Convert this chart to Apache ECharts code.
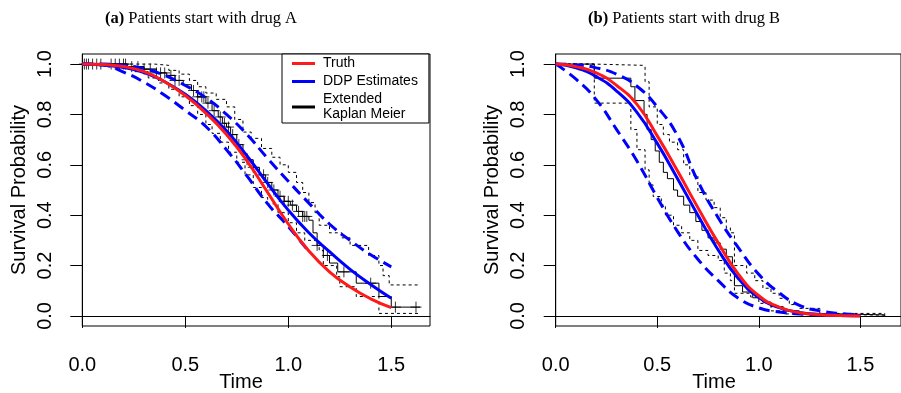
<!DOCTYPE html>
<html>
<head>
<meta charset="utf-8">
<script src="https://cdn.jsdelivr.net/npm/echarts@6/dist/echarts.min.js"></script>
<style>
html,body{margin:0;padding:0;background:#fff;}
#chart{width:901px;height:393px;}
</style>
</head>
<body>
<div id="chart"></div>
<script>
// ---------- Data ----------
const xTicks = [0, 0.5, 1.0, 1.5];
const yTicks = [0, 0.2, 0.4, 0.6, 0.8, 1.0];
const tGrid = [0, 0.1, 0.2, 0.3, 0.4, 0.5, 0.6, 0.7, 0.8, 0.9, 1.0, 1.1, 1.2, 1.3, 1.4, 1.5];

// Panel (a): patients start with drug A
const truthA = [1.0, 0.998, 0.99, 0.97, 0.93, 0.875, 0.805, 0.72, 0.615, 0.49, 0.365, 0.258, 0.175, 0.115, 0.068, 0.033];
const ddpA   = [1.0, 0.996, 0.986, 0.966, 0.93, 0.88, 0.815, 0.735, 0.635, 0.525, 0.42, 0.33, 0.255, 0.185, 0.125, 0.07];
const ddpUpA = [1.0, 1.0, 0.995, 0.982, 0.955, 0.915, 0.866, 0.8, 0.72, 0.625, 0.535, 0.448, 0.365, 0.3, 0.243, 0.195];
const ddpLoA = [1.0, 0.996, 0.968, 0.928, 0.876, 0.816, 0.752, 0.66, 0.555, 0.445, 0.355, 0.255, null, null, null, null];

const kmA_t = [0, 0.22, 0.3, 0.36, 0.41, 0.45, 0.49, 0.53, 0.56, 0.6, 0.63, 0.66, 0.68, 0.7, 0.72, 0.75, 0.78, 0.8, 0.83, 0.86, 0.89, 0.92, 0.95, 0.98, 1.01, 1.04, 1.07, 1.1, 1.12, 1.14, 1.17, 1.2, 1.24, 1.33, 1.44, 1.5, 1.64];
const kmA_s = [1.0, 0.99, 0.98, 0.965, 0.955, 0.935, 0.918, 0.895, 0.87, 0.845, 0.815, 0.79, 0.765, 0.75, 0.72, 0.68, 0.645, 0.62, 0.59, 0.56, 0.53, 0.5, 0.475, 0.455, 0.44, 0.415, 0.395, 0.38, 0.33, 0.28, 0.24, 0.21, 0.175, 0.13, 0.077, 0.035, 0.035];
const ciUA_t = [0, 0.35, 0.42, 0.47, 0.52, 0.56, 0.6, 0.65, 0.7, 0.74, 0.78, 0.82, 0.87, 0.92, 0.96, 1.0, 1.04, 1.07, 1.1, 1.13, 1.15, 1.2, 1.26, 1.3, 1.39, 1.44, 1.46, 1.49, 1.63];
const ciUA_s = [1.0, 0.995, 0.975, 0.96, 0.935, 0.91, 0.885, 0.86, 0.83, 0.78, 0.73, 0.705, 0.665, 0.63, 0.6, 0.57, 0.53, 0.49, 0.45, 0.41, 0.36, 0.33, 0.31, 0.28, 0.24, 0.2, 0.16, 0.123, 0.123];
const ciLA_t = [0, 0.15, 0.25, 0.32, 0.37, 0.42, 0.47, 0.52, 0.56, 0.6, 0.63, 0.67, 0.71, 0.75, 0.79, 0.83, 0.87, 0.9, 0.95, 1.0, 1.04, 1.08, 1.15, 1.17, 1.235, 1.25, 1.33, 1.44, 1.63];
const ciLA_s = [1.0, 0.99, 0.97, 0.945, 0.925, 0.9, 0.87, 0.835, 0.8, 0.76, 0.725, 0.69, 0.65, 0.61, 0.56, 0.51, 0.47, 0.445, 0.41, 0.37, 0.33, 0.3, 0.26, 0.2, 0.156, 0.116, 0.077, 0.01, 0.01];
const censorA = [0.01, 0.02, 0.03, 0.05, 0.07, 0.09, 0.14, 0.16, 0.18, 0.2, 0.21, 0.24, 0.27, 0.3, 0.33, 0.36, 0.38, 0.4, 0.43, 0.45, 0.47, 0.54, 0.56, 0.58, 0.59, 0.61, 0.64, 0.67, 0.69, 0.71, 0.73, 0.76, 0.8, 0.83, 0.88, 0.9, 0.93, 0.96, 0.98, 1.0, 1.02, 1.05, 1.07, 1.08, 1.09, 1.14, 1.19, 1.27, 1.4, 1.52, 1.62];

// Panel (b): patients start with drug B
const truthB = [1.0, 0.99, 0.965, 0.915, 0.84, 0.715, 0.575, 0.43, 0.29, 0.165, 0.08, 0.035, 0.013, 0.005, 0.002, 0.0];
const ddpB   = [1.0, 0.985, 0.95, 0.893, 0.808, 0.685, 0.545, 0.4, 0.262, 0.148, 0.073, 0.033, 0.014, 0.006, 0.002, 0.001];
const ddpUpB = [1.0, 0.997, 0.985, 0.96, 0.912, 0.83, 0.715, 0.535, 0.39, 0.27, 0.165, 0.092, 0.042, 0.02, 0.01, 0.005];
const ddpLoB = [1.0, 0.94, 0.858, 0.74, 0.615, 0.47, 0.335, 0.225, 0.14, 0.07, 0.032, 0.016, 0.008, 0.004, 0.002, 0.001];

const kmB_t = [0, 0.19, 0.37, 0.39, 0.435, 0.45, 0.47, 0.49, 0.51, 0.53, 0.55, 0.58, 0.6, 0.63, 0.66, 0.69, 0.72, 0.75, 0.78, 0.81, 0.84, 0.87, 0.88, 0.92, 0.97, 1.02, 1.06, 1.12, 1.2, 1.3, 1.62];
const kmB_s = [1.0, 0.944, 0.91, 0.855, 0.8, 0.74, 0.7, 0.655, 0.61, 0.57, 0.545, 0.5, 0.475, 0.44, 0.41, 0.375, 0.34, 0.31, 0.29, 0.265, 0.235, 0.19, 0.12, 0.095, 0.072, 0.055, 0.037, 0.02, 0.01, 0.004, 0.0];
const ciUB_t = [0, 0.19, 0.43, 0.44, 0.46, 0.5, 0.53, 0.56, 0.6, 0.63, 0.66, 0.7, 0.74, 0.78, 0.81, 0.84, 0.86, 0.88, 0.94, 0.98, 1.02, 1.06, 1.1, 1.15, 1.2, 1.3, 1.62];
const ciUB_s = [1.0, 0.995, 0.99, 0.93, 0.83, 0.76, 0.72, 0.69, 0.66, 0.6, 0.56, 0.49, 0.46, 0.43, 0.39, 0.35, 0.33, 0.2, 0.17, 0.14, 0.11, 0.09, 0.07, 0.045, 0.03, 0.01, 0.005];
const ciLB_t = [0, 0.19, 0.37, 0.40, 0.44, 0.46, 0.48, 0.52, 0.54, 0.58, 0.62, 0.66, 0.7, 0.75, 0.8, 0.83, 0.86, 0.88, 0.96, 1.0, 1.06, 1.12, 1.2, 1.62];
const ciLB_s = [1.0, 0.845, 0.74, 0.66, 0.58, 0.52, 0.474, 0.44, 0.4, 0.36, 0.33, 0.3, 0.26, 0.24, 0.22, 0.17, 0.14, 0.09, 0.075, 0.05, 0.02, 0.008, 0.003, 0.0];

// ---------- helpers ----------
function zip(ts, vs) { return ts.map((t, i) => [t, vs[i]]); }
function stepAt(ts, ss, t) { let v = ss[0]; for (let i = 0; i < ts.length; i++) { if (ts[i] <= t) v = ss[i]; } return v; }

const RED = '#ff1a1a', BLUE = '#0000ff';
const sans = 'Liberation Sans, Arial, sans-serif';
const serif = 'Liberation Serif, Times New Roman, serif';
const plusSymbol = 'path://M0,5L10,5M5,0L5,10';

function panelSeries(idx, d) {
  const ax = { xAxisIndex: idx, yAxisIndex: idx };
  const s = [];
  s.push(Object.assign({ name: 'ci up ' + idx, type: 'line', step: 'end', symbol: 'none', data: zip(d.ciU_t, d.ciU_s),
    lineStyle: { color: '#000', width: 1, type: [3, 3] }, silent: true }, ax));
  s.push(Object.assign({ name: 'ci lo ' + idx, type: 'line', step: 'end', symbol: 'none', data: zip(d.ciL_t, d.ciL_s),
    lineStyle: { color: '#000', width: 1, type: [3, 3] }, silent: true }, ax));
  s.push(Object.assign({ name: 'Extended Kaplan Meier', type: 'line', step: 'end', symbol: 'none', data: zip(d.km_t, d.km_s),
    color: '#000', lineStyle: { color: '#000', width: 1 } }, ax));
  if (d.censor) {
    s.push(Object.assign({ name: 'censor ' + idx, type: 'scatter', symbol: plusSymbol, symbolSize: 11,
      data: d.censor.map(t => [t, stepAt(d.km_t, d.km_s, t)]),
      itemStyle: { color: 'rgba(0,0,0,0)', borderColor: '#000', borderWidth: 1 }, silent: true }, ax));
  }
  const sm = 0.5;
  s.push(Object.assign({ name: 'ddp up ' + idx, type: 'line', smooth: sm, symbol: 'none', data: zip(tGrid, d.ddpUp),
    lineStyle: { color: BLUE, width: 3, type: [11, 6] }, silent: true }, ax));
  s.push(Object.assign({ name: 'ddp lo ' + idx, type: 'line', smooth: sm, symbol: 'none', data: zip(tGrid, d.ddpLo),
    lineStyle: { color: BLUE, width: 3, type: [11, 6] }, silent: true }, ax));
  s.push(Object.assign({ name: 'DDP Estimates', type: 'line', smooth: sm, symbol: 'none', data: zip(tGrid, d.ddp),
    color: BLUE, lineStyle: { color: BLUE, width: 3 } }, ax));
  s.push(Object.assign({ name: 'Truth', type: 'line', smooth: sm, symbol: 'none', data: zip(tGrid, d.truth),
    color: RED, lineStyle: { color: RED, width: 3 } }, ax));
  return s;
}

function xAxisDef(gi, max) {
  return {
    type: 'value', gridIndex: gi, min: 0, max: max,
    axisLine: { show: true, lineStyle: { color: '#000', width: 1 } },
    axisTick: { show: true, length: 12, customValues: xTicks, lineStyle: { color: '#000', width: 1 } },
    axisLabel: { customValues: xTicks, margin: 29, fontFamily: sans, fontSize: 20, color: '#000', lineHeight: 20,
      formatter: v => v.toFixed(1) },
    splitLine: { show: false }
  };
}
function yAxisDef(gi) {
  return {
    type: 'value', gridIndex: gi, min: -0.04, max: 1.04,
    axisLine: { show: true, lineStyle: { color: '#000', width: 1 } },
    axisTick: { show: true, length: 12, customValues: yTicks, lineStyle: { color: '#000', width: 1 } },
    axisLabel: { customValues: yTicks, rotate: 90, margin: 27, fontFamily: sans, fontSize: 20, color: '#000', lineHeight: 20,
      formatter: v => v.toFixed(1) },
    splitLine: { show: false }
  };
}

const chart = echarts.init(document.getElementById('chart'), null, { renderer: 'canvas' });
const titleStyle = { fontFamily: serif, fontSize: 16.5, fontWeight: 'normal', color: '#000', lineHeight: 18,
  rich: { b: { fontFamily: serif, fontSize: 16.5, fontWeight: 'bold', color: '#000' } } };
const option = {
  backgroundColor: '#fff',
  animation: false,
  title: [
    { text: '{b|(a)} Patients start with drug A', left: 100, top: 5, textStyle: titleStyle },
    { text: '{b|(b)} Patients start with drug B', left: 583, top: 5, textStyle: titleStyle }
  ],
  legend: {
    orient: 'vertical', left: 282, top: 54, selectedMode: false,
    data: ['Truth', 'DDP Estimates', 'Extended Kaplan Meier'],
    formatter: n => n === 'Extended Kaplan Meier' ? 'Extended\nKaplan Meier' : n,
    icon: 'rect', itemWidth: 23, itemHeight: 3, itemGap: 3,
    borderColor: '#000', borderWidth: 1, borderRadius: 0, padding: [2, 11, 1, 10],
    backgroundColor: '#fff',
    textStyle: { fontFamily: sans, fontSize: 14, lineHeight: 15, color: '#000', padding: [0, 0, 0, 3] }
  },
  grid: [
    { left: 82.3, top: 54, width: 347.7, height: 272, show: true, borderColor: '#000', borderWidth: 1, backgroundColor: 'transparent' },
    { left: 555.7, top: 54, width: 349, height: 272, show: true, borderColor: '#000', borderWidth: 1, backgroundColor: 'transparent' }
  ],
  xAxis: [xAxisDef(0, 1.688), xAxisDef(1, 1.70)],
  yAxis: [yAxisDef(0), yAxisDef(1)],
  graphic: [
    { type: 'text', x: 241, y: 382, style: { text: 'Time', font: '20px ' + sans, fill: '#000', align: 'center', verticalAlign: 'middle' } },
    { type: 'text', x: 714, y: 382, style: { text: 'Time', font: '20px ' + sans, fill: '#000', align: 'center', verticalAlign: 'middle' } },
    { type: 'text', x: 19, y: 190, rotation: Math.PI / 2, style: { text: 'Survival Probability', font: '20px ' + sans, fill: '#000', align: 'center', verticalAlign: 'middle' } },
    { type: 'text', x: 492, y: 190, rotation: Math.PI / 2, style: { text: 'Survival Probability', font: '20px ' + sans, fill: '#000', align: 'center', verticalAlign: 'middle' } }
  ],
  series: [].concat(
    panelSeries(0, { truth: truthA, ddp: ddpA, ddpUp: ddpUpA, ddpLo: ddpLoA, km_t: kmA_t, km_s: kmA_s,
      ciU_t: ciUA_t, ciU_s: ciUA_s, ciL_t: ciLA_t, ciL_s: ciLA_s, censor: censorA }),
    panelSeries(1, { truth: truthB, ddp: ddpB, ddpUp: ddpUpB, ddpLo: ddpLoB, km_t: kmB_t, km_s: kmB_s,
      ciU_t: ciUB_t, ciU_s: ciUB_s, ciL_t: ciLB_t, ciL_s: ciLB_s, censor: null })
  )
};
chart.setOption(option);
</script>
</body>
</html>
